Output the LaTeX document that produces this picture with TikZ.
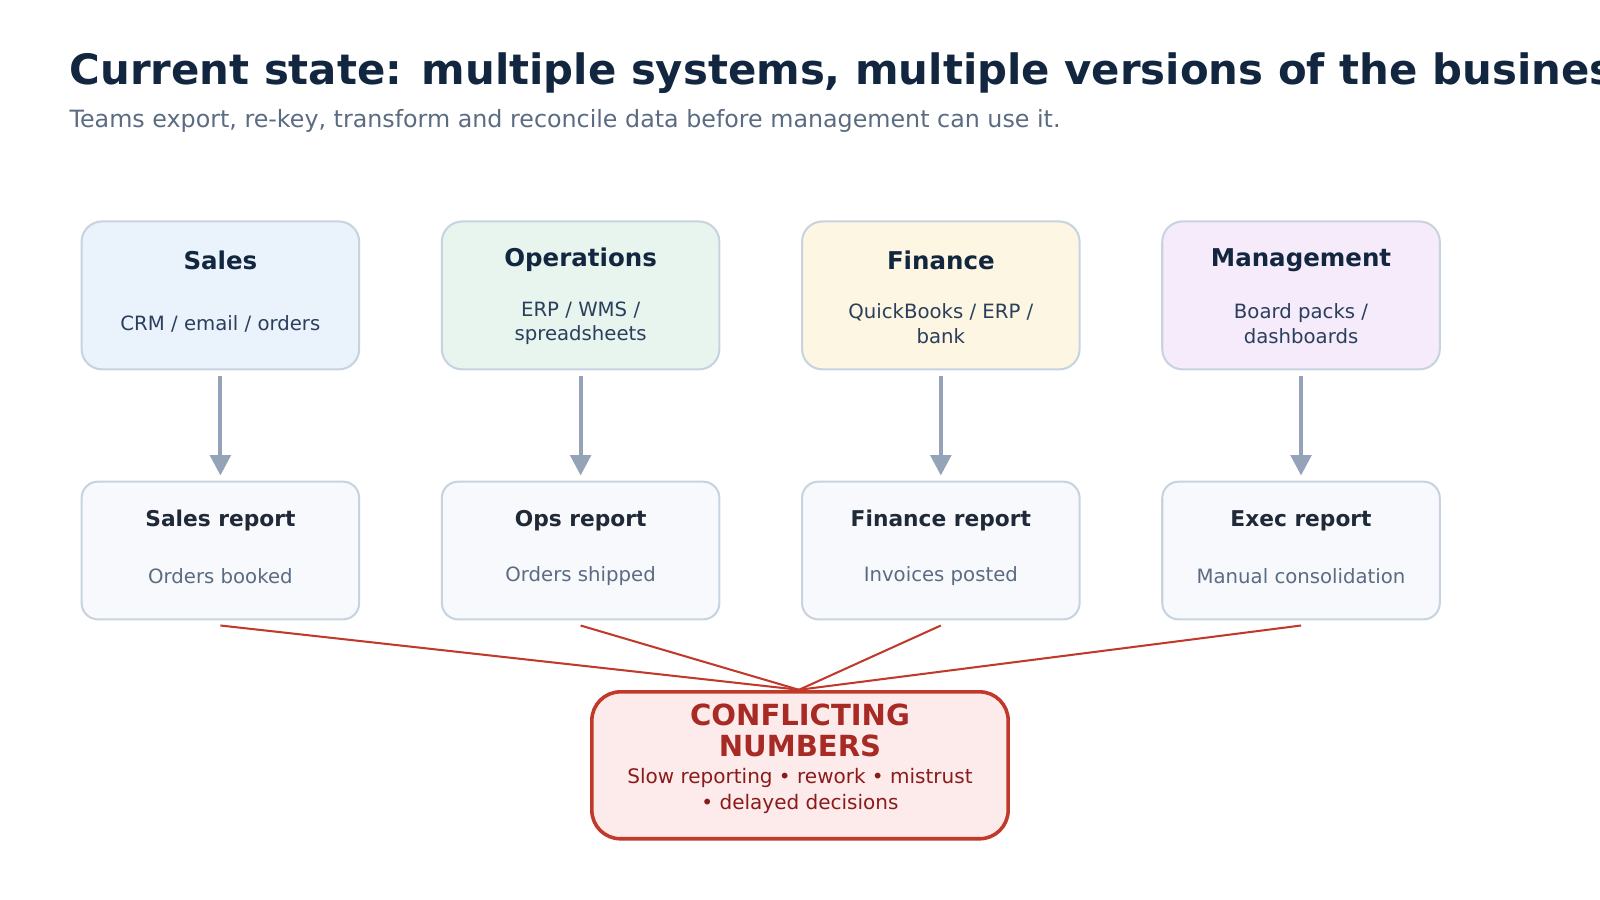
\documentclass[tikz,border=0pt]{standalone}
\usepackage{fontspec}
\usetikzlibrary{arrows.meta}
\setmainfont{DejaVu Sans}
\definecolor{ttl}{HTML}{12263F}
\definecolor{sub}{HTML}{5B6B82}
\definecolor{bd}{HTML}{C8D3E0}
\definecolor{arr}{HTML}{94A3B8}
\definecolor{red}{HTML}{C0392B}
\definecolor{dred}{HTML}{A82A25}
\definecolor{ddred}{HTML}{8B1A1A}
\definecolor{fs}{HTML}{EAF2FC}
\definecolor{fo}{HTML}{E8F5EE}
\definecolor{ff}{HTML}{FDF6E3}
\definecolor{fm}{HTML}{F5EBFA}
\definecolor{fr}{HTML}{F7F9FC}
\definecolor{fc}{HTML}{FCEBEA}
\definecolor{txt}{HTML}{2B3F5C}
\definecolor{dark}{HTML}{1F2937}
\begin{document}
\begin{tikzpicture}[x=1pt,y=-1pt,
 box/.style={draw=bd,line width=2pt,rounded corners=20pt,minimum width=272pt,minimum height=145pt},
 rbox/.style={draw=bd,line width=2pt,rounded corners=16pt,minimum width=272pt,minimum height=135pt,fill=fr},
 hd/.style={font=\fontsize{24}{28}\selectfont\bfseries,text=ttl},
 rhd/.style={font=\fontsize{21.3}{24}\selectfont\bfseries,text=dark},
 st/.style={font=\fontsize{19.3}{24}\selectfont,text=txt,align=center},
 rst/.style={font=\fontsize{19.3}{24}\selectfont,text=sub,align=center},
 ar/.style={draw=arr,line width=4pt,-{Triangle[length=20pt,width=20pt]}},
 rl/.style={draw=red,line width=2pt}]
\useasboundingbox (0,0) rectangle (1568,882);
\node[anchor=base west,font=\fontsize{41}{48}\selectfont\bfseries,text=ttl,inner sep=0] (t) at (68,83) {Current state: multiple systems, multiple versions of the business};
\node[anchor=base west,font=\fontsize{23.3}{26}\selectfont,text=sub,inner sep=0] (s) at (68,125) {Teams export, re-key, transform and reconcile data before management can use it.};
\foreach \n/\x/\f/\h/\s/\rh/\rs in {a/216/fs/Sales/{CRM / email / orders}/Sales report/Orders booked,
 b/569/fo/Operations/{ERP / WMS /\\spreadsheets}/Ops report/Orders shipped,
 c/922/ff/Finance/{QuickBooks / ERP /\\bank}/Finance report/Invoices posted,
 d/1275/fm/Management/{Board packs /\\dashboards}/Exec report/Manual consolidation}{
 \node[box,fill=\f] (\n) at (\x,289.5) {};
 \node[hd] (\n h) at (\x,255) {\h};
 \node[st] (\n s) at (\x,317) {\s};
 \node[rbox] (\n r) at (\x,539.5) {};
 \node[rhd] (\n rh) at (\x,510) {\rh};
 \node[rst] (\n rs) at (\x,565) {\rs};
 \coordinate (\n1) at (\x,368);
 \coordinate (\n2) at (\x,466);
 \coordinate (\n3) at (\x,613);
 \draw[ar] (\n1) -- (\n2);
}
\node[draw=red,line width=3.5pt,fill=fc,rounded corners=28pt,minimum width=408pt,minimum height=144pt] (x) at (784,750) {};
\node[font=\fontsize{28.5}{30}\selectfont\bfseries,text=dred,align=center] (xh) at (784,716) {CONFLICTING\\NUMBERS};
\node[font=\fontsize{19.6}{26}\selectfont,text=ddred,align=center] (xs) at (784,775) {Slow reporting • rework • mistrust\\• delayed decisions};
\coordinate (m) at (783,676);
\foreach \n in {a,b,c,d} \draw[rl] (\n3) -- (m);
\end{tikzpicture}
\end{document}
